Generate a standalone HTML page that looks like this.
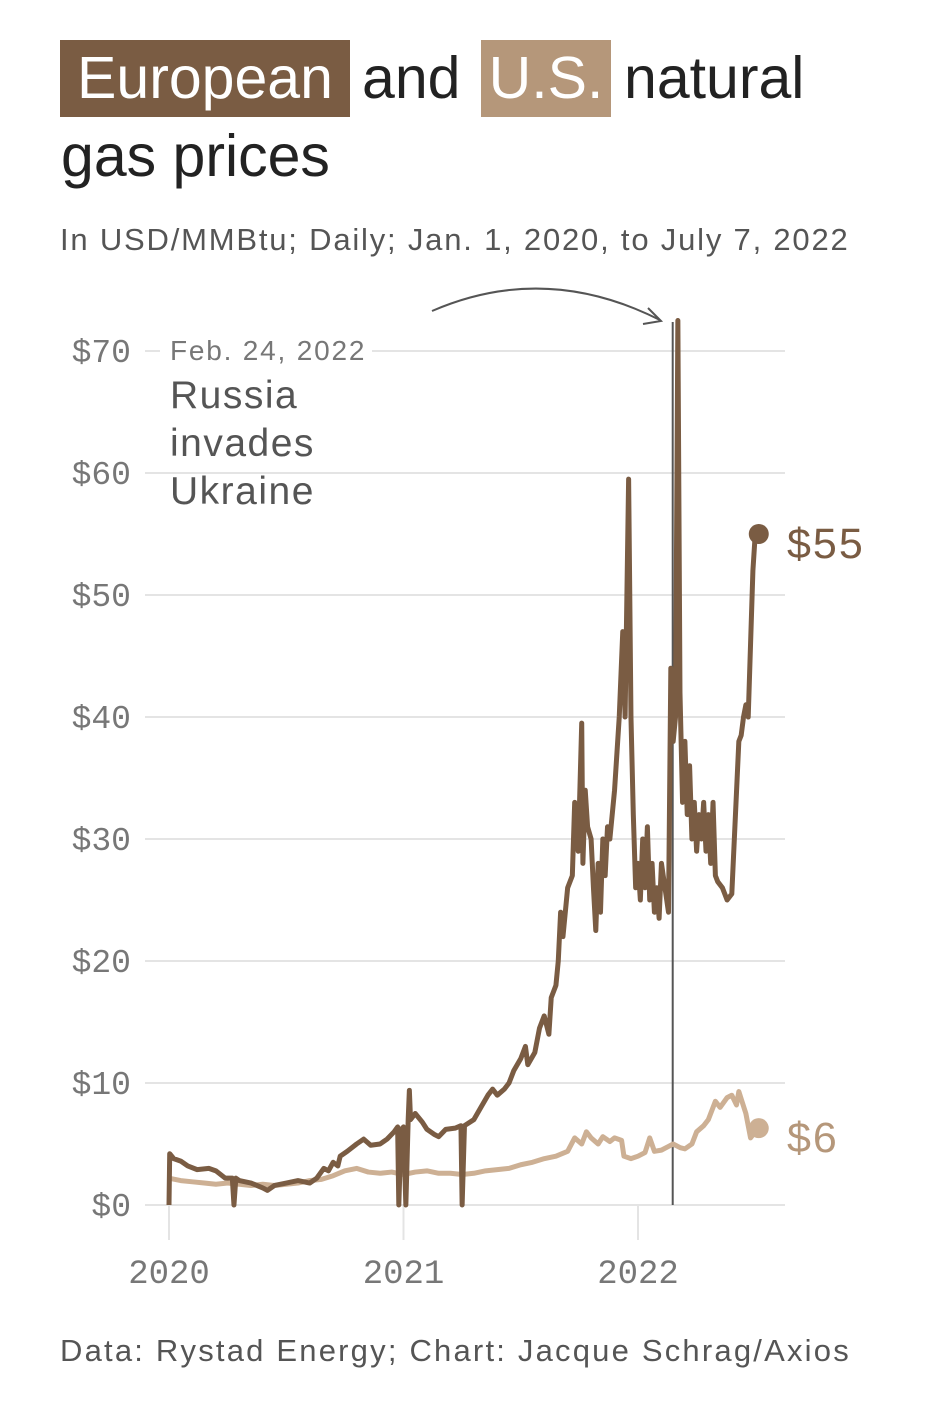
<!DOCTYPE html>
<html><head><meta charset="utf-8"><style>
body{margin:0;background:#fff;width:940px;height:1428px;overflow:hidden;font-family:"Liberation Sans",sans-serif;}
.w{position:absolute;font-size:59px;color:#222;line-height:77px;white-space:nowrap;}
.box{text-align:center;color:#fff;}
.sub{position:absolute;left:60px;top:222px;font-size:31px;color:#555;letter-spacing:1.8px;white-space:nowrap;}
.foot{position:absolute;left:60px;top:1333px;font-size:31px;color:#555;letter-spacing:2.2px;white-space:nowrap;}
</style></head><body>
<div>
<div class="w box" style="left:60px;top:40px;width:290px;background:#7a5c43">European</div>
<div class="w" style="left:362px;top:40px">and</div>
<div class="w box" style="left:481px;top:40px;width:130px;background:#b5977a">U.S.</div>
<div class="w" style="left:624px;top:40px">natural</div>
<div class="w" style="left:61px;top:118px">gas prices</div>
</div>
<div class="sub">In USD/MMBtu; Daily; Jan. 1, 2020, to July 7, 2022</div>
<div class="foot">Data: Rystad Energy; Chart: Jacque Schrag/Axios</div>
<svg id="c" width="940" height="1428" style="position:absolute;left:0;top:0"></svg>
<script>
const yTicks=[0,10,20,30,40,50,60,70];
const xTicks=[2020,2021,2022];
const euX=[2020.0,2020.003,2020.02,2020.05,2020.08,2020.12,2020.17,2020.2,2020.24,2020.27,2020.277,2020.285,2020.3,2020.35,2020.4,2020.42,2020.45,2020.5,2020.55,2020.6,2020.63,2020.66,2020.68,2020.7,2020.72,2020.73,2020.76,2020.8,2020.83,2020.86,2020.9,2020.93,2020.96,2020.975,2020.98,2020.99,2021.0,2021.01,2021.02,2021.025,2021.03,2021.05,2021.08,2021.1,2021.13,2021.15,2021.18,2021.22,2021.245,2021.25,2021.26,2021.3,2021.33,2021.36,2021.38,2021.4,2021.43,2021.45,2021.47,2021.5,2021.52,2021.53,2021.56,2021.58,2021.6,2021.62,2021.63,2021.65,2021.66,2021.67,2021.68,2021.7,2021.72,2021.73,2021.745,2021.76,2021.765,2021.775,2021.785,2021.8,2021.81,2021.82,2021.83,2021.84,2021.85,2021.86,2021.87,2021.88,2021.9,2021.92,2021.935,2021.945,2021.96,2021.97,2021.98,2021.99,2022.0,2022.01,2022.02,2022.03,2022.04,2022.05,2022.06,2022.07,2022.08,2022.09,2022.1,2022.115,2022.13,2022.14,2022.15,2022.16,2022.17,2022.179,2022.19,2022.2,2022.21,2022.22,2022.23,2022.24,2022.25,2022.26,2022.27,2022.28,2022.29,2022.3,2022.31,2022.32,2022.33,2022.34,2022.36,2022.38,2022.4,2022.43,2022.44,2022.45,2022.46,2022.47,2022.48,2022.49,2022.5,2022.515];
const euY=[0,4.2,3.8,3.6,3.2,2.9,3.0,2.8,2.2,2.2,0,2.2,2.0,1.8,1.4,1.2,1.6,1.8,2.0,1.8,2.2,3.0,2.8,3.5,3.2,4.0,4.4,5.0,5.4,4.9,5.0,5.4,6.0,6.4,0,6.2,6.4,0,7.0,9.4,7.0,7.5,6.8,6.2,5.8,5.6,6.2,6.3,6.5,0,6.5,7.0,8.0,9.0,9.5,9.0,9.5,10.0,11.0,12.0,13.0,11.5,12.5,14.5,15.5,14,17,18,20,24,22,26,27,33,29,39.5,28,34,31,30,26,22.5,28,24,30,27,31,30,34,40,47,40,59.5,40,32,26,28,25,30,26,31,25,28,24,26,23.5,28,26,24,44,38,40,72.5,42,33,38,32,36,30,33,29,32,30,33,29,32,28,33,27,26.5,26,25,25.5,38,38.5,40,41,40,46,52,55];
const usX=[2020.0,2020.05,2020.1,2020.15,2020.2,2020.25,2020.3,2020.35,2020.4,2020.45,2020.5,2020.55,2020.6,2020.65,2020.7,2020.75,2020.8,2020.85,2020.9,2020.95,2021.0,2021.05,2021.1,2021.15,2021.2,2021.25,2021.3,2021.35,2021.4,2021.45,2021.5,2021.55,2021.6,2021.65,2021.7,2021.73,2021.76,2021.78,2021.8,2021.83,2021.85,2021.88,2021.9,2021.93,2021.94,2021.97,2022.0,2022.03,2022.05,2022.07,2022.1,2022.13,2022.15,2022.18,2022.2,2022.23,2022.25,2022.28,2022.3,2022.33,2022.35,2022.38,2022.4,2022.42,2022.43,2022.44,2022.46,2022.48,2022.5,2022.515];
const usY=[2.2,2.0,1.9,1.8,1.7,1.8,1.7,1.6,1.7,1.6,1.7,1.8,2.0,2.1,2.4,2.8,3.0,2.7,2.6,2.7,2.5,2.7,2.8,2.6,2.6,2.5,2.6,2.8,2.9,3.0,3.3,3.5,3.8,4.0,4.4,5.5,5.0,6.0,5.5,5.0,5.6,5.2,5.5,5.3,4.0,3.8,4.0,4.3,5.5,4.4,4.5,4.8,5.0,4.7,4.6,5.0,6.0,6.5,7.0,8.5,8.0,8.8,9.0,8.2,9.3,8.7,7.5,5.5,6.0,6.3];
const ns="http://www.w3.org/2000/svg";
const svg=document.getElementById('c');
const X=v=>169+(v-2020)*234.5;
const Y=v=>1205-v*12.2;
function mk(t,a){const e=document.createElementNS(ns,t);for(const k in a)e.setAttribute(k,a[k]);svg.appendChild(e);return e;}
yTicks.forEach(v=>{
 const l=mk('line',{x1:145,x2:785,y1:Y(v),y2:Y(v),stroke:'#e4e4e4','stroke-width':2});
 
 
 const t=mk('text',{x:131,y:Y(v)+11,'text-anchor':'end','font-family':'Liberation Mono,monospace','font-size':33,fill:'#777'});
 t.textContent='$'+v;
 
 
});
xTicks.forEach(v=>{
 const l=mk('line',{x1:X(v),x2:X(v),y1:1205,y2:1240,stroke:'#e4e4e4','stroke-width':2});
 
 
 const t=mk('text',{x:X(v),y:1283,'text-anchor':'middle','font-family':'Liberation Mono,monospace','font-size':34,fill:'#777'});
 t.textContent=v;
 
 
});
const ev=mk('line',{x1:X(2022.148),x2:X(2022.148),y1:322,y2:1205,stroke:'#555','stroke-width':2});


const pu=mk('polyline',{points:usX.map((x,i)=>X(x)+','+Y(usY[i])).join(' '),fill:'none',stroke:'#cdb094','stroke-width':5,'stroke-linejoin':'round'});


const pe=mk('polyline',{points:euX.map((x,i)=>X(x)+','+Y(euY[i])).join(' '),fill:'none',stroke:'#7a5c43','stroke-width':5,'stroke-linejoin':'round'});


const de=mk('circle',{cx:X(euX[euX.length-1]),cy:Y(euY[euY.length-1]),r:10,fill:'#7a5c43'});


const du=mk('circle',{cx:X(usX[usX.length-1]),cy:Y(usY[usY.length-1]),r:10,fill:'#cdb094'});


const le=mk('text',{x:787,y:Y(euY[euY.length-1])+24,'font-size':43,'letter-spacing':2,fill:'#7a5c43','font-family':'Liberation Sans,sans-serif'});
le.textContent='$55';


const lu=mk('text',{x:787,y:Y(usY[usY.length-1])+24,'font-size':43,'letter-spacing':2,fill:'#b5977a','font-family':'Liberation Sans,sans-serif'});
lu.textContent='$6';


const bg=mk('rect',{x:160,y:330,width:212,height:40,fill:'#fff'});


const a1=mk('text',{x:170,y:360,'font-size':28,'letter-spacing':1.8,fill:'#777','font-family':'Liberation Sans,sans-serif'});
a1.textContent='Feb. 24, 2022';


['Russia','invades','Ukraine'].forEach((s,i)=>{
 const t=mk('text',{x:170,y:408+i*48,'font-size':39,'letter-spacing':1.5,fill:'#555','font-family':'Liberation Sans,sans-serif'});
 t.textContent=s;
 
 
});
const ar=mk('path',{d:'M432,311 Q545,262 660,320',fill:'none',stroke:'#555','stroke-width':2});


const ah=mk('path',{d:'M648,308 L661,321 L643,324',fill:'none',stroke:'#555','stroke-width':2});


</script>
</body></html>
